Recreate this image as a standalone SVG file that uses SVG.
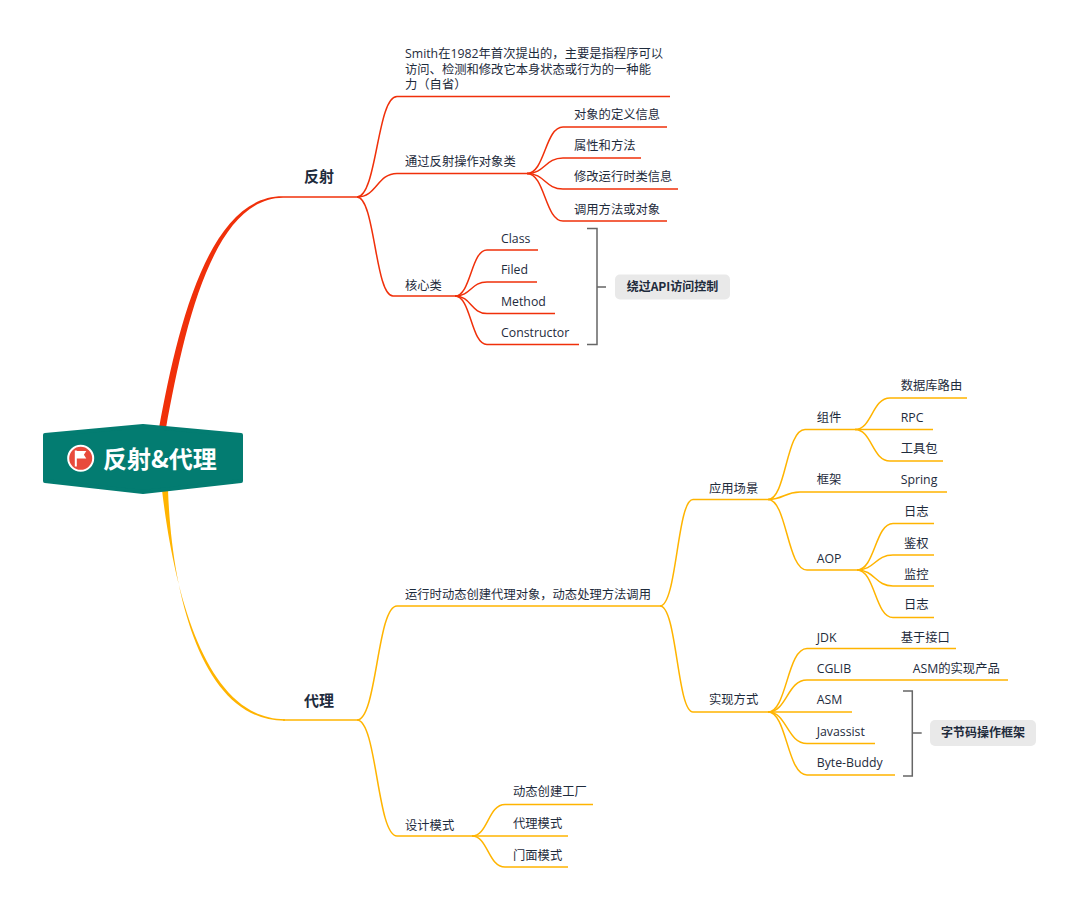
<svg xmlns="http://www.w3.org/2000/svg" width="1080" height="912" viewBox="0 0 1080 912">
<style>
.t{font-family:"Open Sans","Noto Sans CJK SC",sans-serif;font-size:12.3px;fill:#1E2B3C}
.b{font-family:"Noto Sans CJK SC","Open Sans",sans-serif;font-size:15px;font-weight:bold;fill:#1E2B3C}
.lb{font-family:"Noto Sans CJK SC","Open Sans",sans-serif;font-size:12px;font-weight:bold;fill:#1E2B3C}
.r{fill:none;stroke:#F0300A;stroke-width:1.5}
.y{fill:none;stroke:#FFB400;stroke-width:1.5}
.br{fill:none;stroke:#666;stroke-width:1.5}
.box{fill:#E9E9E9}
</style>
<rect width="1080" height="912" fill="#fff"/>
<g id="connectors">
<path d="M159,428 C177,330 208,195.6 283,196.2 L283,197.8 C212,198.4 184,330 166,428 Z" fill="#F0300A"/>
<path d="M162,490 C175,600 208,719.2 285,719.2 L285,720.8 C204,721.5 172,600 168,490 Z" fill="#FFB400"/>
<path class="r" d="M283,197 L357,197"/>
<path class="r" d="M357,197 C377,197 377,96.5 397,96.5 L670,96.5"/>
<path class="r" d="M357,197 C377,197 377,173.5 397,173.5 L527,173.5"/>
<path class="r" d="M357,197 C375,197 375,296 393,296 L455,296"/>
<path class="r" d="M527,173.5 C545,173.5 545,127 563,127 L667,127"/>
<path class="r" d="M527,173.5 C545,173.5 545,158 563,158 L641,158"/>
<path class="r" d="M527,173.5 C545,173.5 545,189 563,189 L678,189"/>
<path class="r" d="M527,173.5 C545,173.5 545,221 563,221 L667,221"/>
<path class="r" d="M455,296 C471,296 471,250 487,250 L538,250"/>
<path class="r" d="M455,296 C471,296 471,282 487,282 L537,282"/>
<path class="r" d="M455,296 C471,296 471,313.5 487,313.5 L555,313.5"/>
<path class="r" d="M455,296 C471,296 471,344.5 487,344.5 L579,344.5"/>
<path class="y" d="M283,720 L357,720"/>
<path class="y" d="M357,720 C377,720 377,606 397,606 L660,606"/>
<path class="y" d="M357,720 C377,720 377,836 397,836 L472,836"/>
<path class="y" d="M472,836 C488,836 488,804.5 505,804.5 L593,804.5"/>
<path class="y" d="M472,836 L568,836"/>
<path class="y" d="M472,836 C488,836 488,867 505,867 L568,867"/>
<path class="y" d="M660,606 C677,606 677,499.5 693,499.5 L768,499.5"/>
<path class="y" d="M660,606 C677,606 677,712 693,712 L768,712"/>
<path class="y" d="M768,499.5 C786,499.5 786,429.5 805,429.5 L855,429.5"/>
<path class="y" d="M768,499.5 C784,499.5 784,492 800,492 L947,492"/>
<path class="y" d="M768,499.5 C787,499.5 787,570 807,570 L857,570"/>
<path class="y" d="M855,429.5 C872,429.5 872,398 890,398 L967,398"/>
<path class="y" d="M855,429.5 L933,429.5"/>
<path class="y" d="M855,429.5 C872,429.5 872,461 890,461 L943,461"/>
<path class="y" d="M857,570 C875,570 875,523.5 893,523.5 L934,523.5"/>
<path class="y" d="M857,570 C875,570 875,555 893,555 L934,555"/>
<path class="y" d="M857,570 C875,570 875,586 893,586 L934,586"/>
<path class="y" d="M857,570 C875,570 875,617.5 893,617.5 L934,617.5"/>
<path class="y" d="M768,712 C787,712 787,648.5 807,648.5 L956,648.5"/>
<path class="y" d="M768,712 C787,712 787,680 807,680 L1008,680"/>
<path class="y" d="M768,712 L852,712"/>
<path class="y" d="M768,712 C787,712 787,743.5 807,743.5 L875,743.5"/>
<path class="y" d="M768,712 C787,712 787,775 807,775 L895,775"/>
</g>
<g id="root">
<path d="M45,435 L143,426 L241,435 L241,481 L143,492 L45,481 Z" fill="#037C71" stroke="#037C71" stroke-width="4" stroke-linejoin="round"/>
<circle cx="80.7" cy="458.3" r="12.5" fill="#E84A3C" stroke="#fff" stroke-width="2"/>
<path d="M74.8,450.5 h2 v16 h-2 z M76.8,451 h9.5 l-2.4,3.8 l2.4,3.8 h-9.5 z" fill="#fff"/>
<text x="103" y="467.5" font-family="Noto Sans CJK SC, Open Sans, sans-serif" font-size="24" font-weight="bold" fill="#fff">反射&amp;代理</text>
</g>
<g id="n-fanshe"><text class="b" x="304" y="182">反射</text></g>
<g id="n-smith"><text class="t" x="405" y="58">Smith在1982年首次提出的，主要是指程序可以</text><text class="t" x="405" y="73.5">访问、检测和修改它本身状态或行为的一种能</text><text class="t" x="405" y="89">力（自省）</text></g>
<g id="n-tongguo"><text class="t" x="405" y="166">通过反射操作对象类</text></g>
<g id="n-dingyi"><text class="t" x="574" y="118.5">对象的定义信息</text></g>
<g id="n-shuxing"><text class="t" x="574" y="150">属性和方法</text></g>
<g id="n-xiugai"><text class="t" x="574" y="181">修改运行时类信息</text></g>
<g id="n-diaoyong"><text class="t" x="574" y="213.5">调用方法或对象</text></g>
<g id="n-hexin"><text class="t" x="405" y="290">核心类</text></g>
<g id="n-class"><text class="t" x="501" y="242.5">Class</text></g>
<g id="n-filed"><text class="t" x="501" y="273.5">Filed</text></g>
<g id="n-method"><text class="t" x="501" y="305.5">Method</text></g>
<g id="n-constructor"><text class="t" x="501" y="336.5">Constructor</text></g>
<g id="sum-api">
<path class="br" d="M587,228.5 H597 V344.5 H587 M597,287 H606"/>
<rect class="box" x="615" y="274.5" width="115" height="25" rx="5"/>
<text class="lb" x="672.5" y="291.3" text-anchor="middle">绕过API访问控制</text>
</g>
<g id="n-daili"><text class="b" x="304" y="706">代理</text></g>
<g id="n-yunxing"><text class="t" x="405" y="598.5">运行时动态创建代理对象，动态处理方法调用</text></g>
<g id="n-sheji"><text class="t" x="405" y="829.5">设计模式</text></g>
<g id="n-gongchang"><text class="t" x="513" y="796">动态创建工厂</text></g>
<g id="n-dailims"><text class="t" x="513" y="827.5">代理模式</text></g>
<g id="n-menmian"><text class="t" x="513" y="859.5">门面模式</text></g>
<g id="n-yingyong"><text class="t" x="709" y="492.5">应用场景</text></g>
<g id="n-zujian"><text class="t" x="816.7" y="422">组件</text></g>
<g id="n-shujuku"><text class="t" x="900.7" y="390">数据库路由</text></g>
<g id="n-rpc"><text class="t" x="900.7" y="421.7">RPC</text></g>
<g id="n-gongju"><text class="t" x="900.7" y="453.4">工具包</text></g>
<g id="n-kuangjia"><text class="t" x="816.7" y="484.4">框架</text></g>
<g id="n-spring"><text class="t" x="900.7" y="484.4">Spring</text></g>
<g id="n-aop"><text class="t" x="816.7" y="562.7">AOP</text></g>
<g id="n-rizhi1"><text class="t" x="904" y="516">日志</text></g>
<g id="n-jianquan"><text class="t" x="904" y="547.7">鉴权</text></g>
<g id="n-jiankong"><text class="t" x="904" y="578.8">监控</text></g>
<g id="n-rizhi2"><text class="t" x="904" y="609.4">日志</text></g>
<g id="n-shixian"><text class="t" x="709" y="704.4">实现方式</text></g>
<g id="n-jdk"><text class="t" x="816.7" y="642">JDK</text></g>
<g id="n-jiekou"><text class="t" x="900.7" y="642">基于接口</text></g>
<g id="n-cglib"><text class="t" x="816.7" y="672.7">CGLIB</text></g>
<g id="n-asmchanpin"><text class="t" x="912.7" y="672.7">ASM的实现产品</text></g>
<g id="n-asm"><text class="t" x="816.7" y="704.4">ASM</text></g>
<g id="n-javassist"><text class="t" x="816.7" y="736">Javassist</text></g>
<g id="n-bytebuddy"><text class="t" x="816.7" y="767">Byte-Buddy</text></g>
<g id="sum-zijiema">
<path class="br" d="M903,691 H912.3 V776 H903 M912.3,733 H921.7"/>
<rect class="box" x="930" y="720" width="106" height="26" rx="5"/>
<text class="lb" x="983" y="737.3" text-anchor="middle">字节码操作框架</text>
</g>
</svg>
